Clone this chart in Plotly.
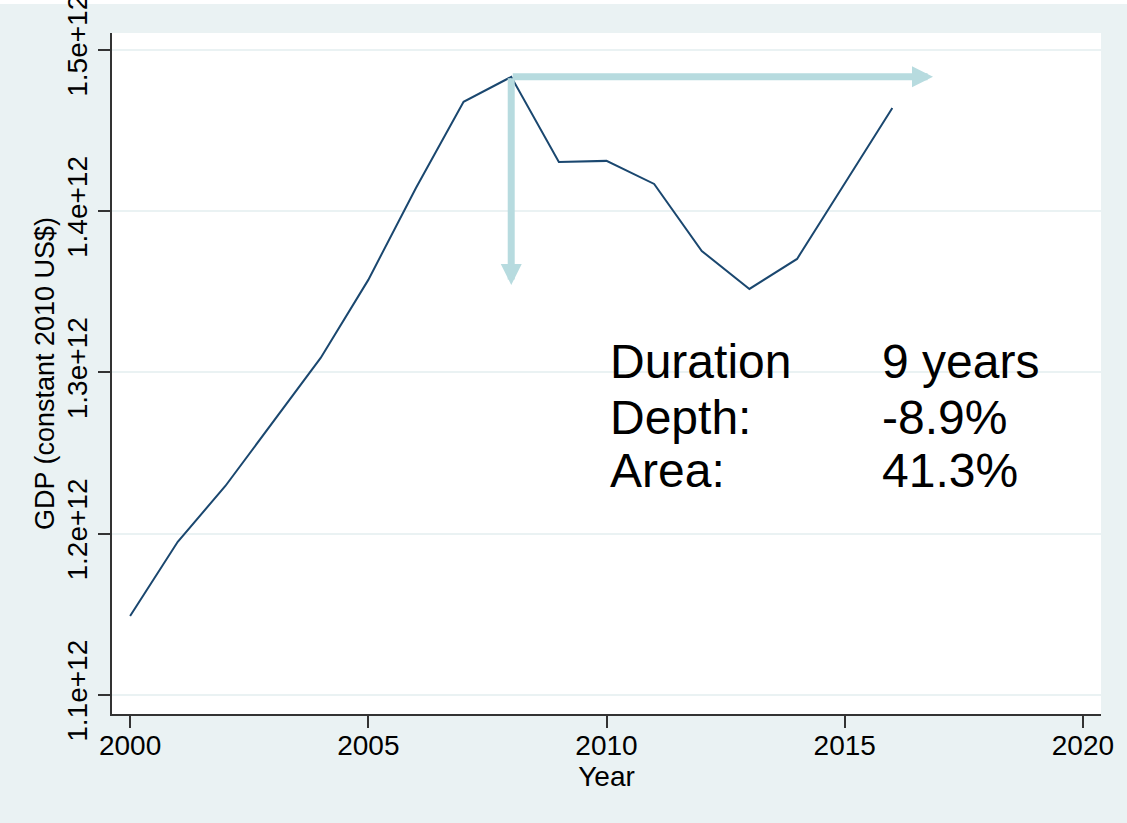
import plotly.graph_objects as go

years = list(range(2000, 2017))
gdp = [1.149e12, 1.195e12, 1.2296e12, 1.2693e12, 1.309e12, 1.3574e12, 1.4144e12,
       1.4678e12, 1.4833e12, 1.4305e12, 1.4312e12, 1.4169e12, 1.3753e12, 1.3518e12,
       1.3704e12, 1.4172e12, 1.464e12]

x_ticks = [2000, 2005, 2010, 2015, 2020]
y_ticks = [1.1e12, 1.2e12, 1.3e12, 1.4e12, 1.5e12]
y_tick_labels = ["1.1e+12", "1.2e+12", "1.3e+12", "1.4e+12", "1.5e+12"]

stat_names = ["Duration", "Depth:", "Area:"]
stat_values = ["9 years", "-8.9%", "41.3%"]
stat_rows_y = [1.3071e12, 1.2718e12, 1.2395e12]
stat_name_x = 2010.04
stat_value_x = 2015.74
duration_years = 9

LINE = "#1A476F"
ARROW = "#B7DBDF"
BG = "#EAF2F3"
FONT = "Liberation Sans, Arial, Helvetica, sans-serif"

peak_i = max(range(len(gdp)), key=lambda i: gdp[i])
peak_year, peak_val = years[peak_i], gdp[peak_i]
trough_val = min(gdp[peak_i:])

fig = go.Figure()
fig.add_trace(go.Scatter(x=years, y=gdp, mode="lines",
                         line=dict(color=LINE, width=2), showlegend=False))

annotations = []
# horizontal arrow (duration)
annotations.append(dict(x=peak_year + duration_years, y=peak_val, ax=peak_year, ay=peak_val,
                        xref="x", yref="y", axref="x", ayref="y", text="", showarrow=True,
                        arrowhead=2, arrowsize=0.6, arrowwidth=7, arrowcolor=ARROW, standoff=7))
# vertical arrow (depth)
annotations.append(dict(x=peak_year, y=trough_val, ax=peak_year, ay=peak_val,
                        xref="x", yref="y", axref="x", ayref="y", text="", showarrow=True,
                        arrowhead=2, arrowsize=0.6, arrowwidth=7, arrowcolor=ARROW, standoff=4))
for name, val, yy in zip(stat_names, stat_values, stat_rows_y):
    annotations.append(dict(x=stat_name_x, y=yy, xref="x", yref="y", text=name, showarrow=False,
                            xanchor="left", yanchor="middle",
                            font=dict(family=FONT, size=48, color="black")))
    annotations.append(dict(x=stat_value_x, y=yy, xref="x", yref="y", text=val, showarrow=False,
                            xanchor="left", yanchor="middle",
                            font=dict(family=FONT, size=48, color="black")))

fig.update_layout(
    width=1127, height=823,
    margin=dict(l=112, r=26, t=33, b=109, autoexpand=False),
    paper_bgcolor=BG, plot_bgcolor="white",
    font=dict(family=FONT, size=27, color="black"),
    annotations=annotations,
    shapes=[dict(type="rect", xref="paper", yref="paper", x0=-0.2, x1=1.1,
                 y0=1 + 29 / 681, y1=1.2, fillcolor="white", line=dict(width=0), layer="below")],
)
fig.update_xaxes(range=[1999.62, 2020.38], tickvals=x_ticks, ticks="outside", ticklen=12,
                 tickwidth=1.5, tickcolor="#333333", showgrid=False, zeroline=False,
                 showline=True, linecolor="#333333", linewidth=1.5, automargin=False,
                 ticklabeloverflow="allow", ticklabelstandoff=-6,
                 title=dict(text="Year", font=dict(size=28), standoff=3),
                 tickfont=dict(size=28))
fig.update_yaxes(range=[1.0882e12, 1.5105e12], tickvals=y_ticks, ticktext=y_tick_labels,
                 tickangle=-90, ticks="outside", ticklen=12, tickwidth=1.5, tickcolor="#333333",
                 showgrid=True, gridcolor=BG, gridwidth=2, zeroline=False,
                 showline=True, linecolor="#333333", linewidth=1.5, automargin=False,
                 ticklabeloverflow="allow",
                 title=dict(text="GDP (constant 2010 US$)", font=dict(size=27), standoff=0),
                 tickfont=dict(size=28))

fig.write_html("out.html", config={"displayModeBar": False},
               post_script="document.body.style.margin='0px';")
